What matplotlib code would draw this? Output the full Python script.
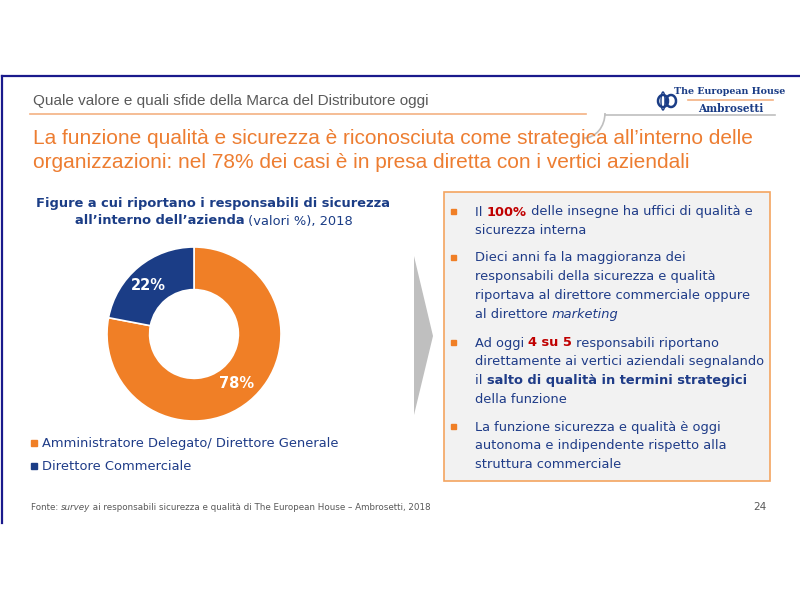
import matplotlib
matplotlib.use("Agg")
import matplotlib.pyplot as plt
from matplotlib.patches import Rectangle, Polygon, Arc
from matplotlib.lines import Line2D

# ---------------- data ----------------
categories = ["Amministratore Delegato/ Direttore Generale", "Direttore Commerciale"]
values = [78, 22]
value_labels = ["78%", "22%"]

header = "Quale valore e quali sfide della Marca del Distributore oggi"
title_lines = ["La funzione qualità e sicurezza è riconosciuta come strategica all’interno delle",
               "organizzazioni: nel 78% dei casi è in presa diretta con i vertici aziendali"]
chart_title_1 = "Figure a cui riportano i responsabili di sicurezza"
chart_title_2 = [("all’interno dell’azienda", "bold"), (" (valori %), 2018", "normal")]

bullets = [
    [[("Il ", "n"), ("100%", "red"), (" delle insegne ha uffici di qualità e", "n")],
     [("sicurezza interna", "n")]],
    [[("Dieci anni fa la maggioranza dei", "n")],
     [("responsabili della sicurezza e qualità", "n")],
     [("riportava al direttore commerciale oppure", "n")],
     [("al direttore ", "n"), ("marketing", "it")]],
    [[("Ad oggi ", "n"), ("4 su 5", "red"), (" responsabili riportano", "n")],
     [("direttamente ai vertici aziendali segnalando", "n")],
     [("il ", "n"), ("salto di qualità in termini strategici", "b")],
     [("della funzione", "n")]],
    [[("La funzione sicurezza e qualità è oggi", "n")],
     [("autonoma e indipendente rispetto alla", "n")],
     [("struttura commerciale", "n")]],
]
source = [("Fonte: ", "n"), ("survey", "it"), (" ai responsabili sicurezza e qualità di The European House – Ambrosetti, 2018", "n")]
page = "24"

ORANGE = "#F07F26"
NAVY = "#1B3D86"
TXT = "#1F3C88"
RED = "#C00000"

fig = plt.figure(figsize=(8, 6), dpi=100)
fig.patch.set_facecolor("white")
ax = fig.add_axes([0, 0, 1, 1])
ax.set_xlim(0, 800)
ax.set_ylim(600, 0)
ax.axis("off")

renderer = fig.canvas.get_renderer()


def rich_line(x, y, pieces, size, family="DejaVu Sans", base_color=TXT, ha="left"):
    styles = {
        "n": dict(weight="normal", style="normal", color=base_color),
        "normal": dict(weight="normal", style="normal", color=base_color),
        "bold": dict(weight="bold", style="normal", color=base_color),
        "b": dict(weight="bold", style="normal", color=base_color),
        "red": dict(weight="bold", style="normal", color=RED),
        "it": dict(weight="normal", style="italic", color=base_color),
    }
    texts = []
    widths = []
    for s, st in pieces:
        t = ax.text(0, y, s, fontsize=size, family=family, va="center", ha="left", **styles[st])
        bb = t.get_window_extent(renderer=renderer)
        texts.append(t)
        widths.append(bb.width)
    total = sum(widths)
    cx = x - total / 2 if ha == "center" else x
    for t, w in zip(texts, widths):
        t.set_x(cx)
        cx += w


# ---- slide frame ----
ax.add_line(Line2D([1.5, 800], [75.5, 75.5], color="#1A1A8C", lw=1.6))
ax.add_line(Line2D([1.5, 1.5], [75.5, 523], color="#1A1A8C", lw=1.6))

# ---- header ----
ax.text(33, 101, header, fontsize=11, family="Liberation Sans", color="#595959", va="center")
ax.add_line(Line2D([30, 586], [113.5, 113.5], color="#F4B183", lw=1.2))
ax.add_patch(Arc((584, 113), 42, 50, theta1=0, theta2=90, color="#BFBFBF", lw=1.2))
ax.add_line(Line2D([605, 775], [114.5, 114.5], color="#BFBFBF", lw=1.2))

# logo
ax.add_patch(Arc((663, 101), 10, 12, theta1=0, theta2=360, color=NAVY, lw=1.8))
ax.add_patch(Arc((671, 101), 10, 12, theta1=0, theta2=360, color=NAVY, lw=1.8))
ax.add_patch(Arc((663, 101), 4, 18, theta1=0, theta2=360, color=NAVY, lw=1.0))
ax.text(730, 92, "The European House", fontsize=6.8, family="DejaVu Serif", weight="bold",
        color=NAVY, ha="center", va="center")
ax.add_line(Line2D([688, 773], [100, 100], color="#F4B183", lw=1.2))
ax.text(731, 108.5, "Ambrosetti", fontsize=7.6, family="DejaVu Serif", weight="bold",
        color=NAVY, ha="center", va="center")

# ---- title ----
for i, line in enumerate(title_lines):
    ax.text(33, 138 + i * 25, line, fontsize=15, family="Liberation Sans",
            color="#ED7D31", va="center")

# ---- chart title ----
ax.text(213, 204, chart_title_1, fontsize=9.4, family="DejaVu Sans", weight="bold",
        color=NAVY, ha="center", va="center")
rich_line(214, 221, chart_title_2, 9.4, base_color=NAVY, ha="center")

# ---- donut ----
cx, cy, R = 194, 334, 87
pax = fig.add_axes([(cx - R) / 800, 1 - (cy + R) / 600, 2 * R / 800, 2 * R / 600])
wedges, _ = pax.pie(values, colors=[ORANGE, NAVY], startangle=90, counterclock=False,
                    radius=1.0, wedgeprops=dict(width=0.49, edgecolor="white", linewidth=1.2))
pax.set_xlim(-1, 1)
pax.set_ylim(-1, 1)
pax.set_aspect("auto")
pax.axis("off")
fig.text(237, 384, value_labels[0], transform=ax.transData, fontsize=10.5, weight="bold",
         color="white", ha="center", va="center", zorder=10)
fig.text(148, 286, value_labels[1], transform=ax.transData, fontsize=10.5, weight="bold",
         color="white", ha="center", va="center", zorder=10)

# ---- legend ----
for i, (cat, col) in enumerate(zip(categories, [ORANGE, NAVY])):
    y = 443 + i * 23
    ax.add_patch(Rectangle((30.5, y - 3), 6, 6, color=col))
    ax.text(42, y, cat, fontsize=9.4, color=TXT, va="center", family="DejaVu Sans")

# ---- arrow ----
ax.add_patch(Polygon([[414, 256], [433, 336], [414, 415]], closed=True, color="#BFBFBF", lw=0))

# ---- right box ----
ax.add_patch(Rectangle((443.5, 191.5), 326, 289, facecolor="#F2F2F2", edgecolor="#F4A460", lw=1.2))
starts = [212, 258, 343, 427]
lh = 18.7
for start, lines in zip(starts, bullets):
    ax.add_patch(Rectangle((451, start - 3), 5, 5, color=ORANGE))
    for j, pieces in enumerate(lines):
        rich_line(475, start + j * lh, pieces, 9.4)

# ---- footer ----
rich_line(31, 508, source, 6.35, family="DejaVu Sans", base_color="#595959")
ax.text(766, 507, page, fontsize=7.5, color="#595959", ha="right", va="center")

fig.savefig("out.png", dpi=100, facecolor="white")
